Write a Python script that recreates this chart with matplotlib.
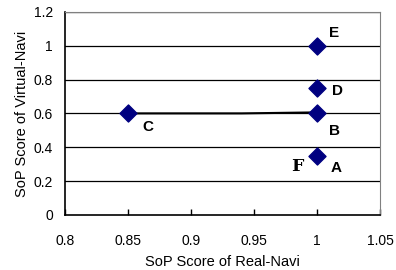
import matplotlib
matplotlib.use("Agg")
import matplotlib.pyplot as plt

plt.rcParams["font.family"] = ["Liberation Sans", "DejaVu Sans"]

# data
real_navi = [1.0, 1.0, 0.85, 1.0, 1.0]
virtual_navi = [0.35, 0.6, 0.6, 0.75, 1.0]
point_names = ["A", "B", "C", "D", "E"]
line_x = [0.85, 0.94, 1.0]
line_y = [0.6, 0.6, 0.606]

NAVY = "#000080"

fig = plt.figure(figsize=(3.96, 2.70), dpi=100)
ax = fig.add_axes([0.164, 0.204, 0.796, 0.752])

for y in [0.2, 0.4, 0.6, 0.8, 1.0, 1.2]:
    ax.axhline(y, color="black", lw=0.9, zorder=1)

ax.plot(line_x, line_y, color="black", lw=1.5, zorder=2)
ax.scatter(real_navi, virtual_navi, marker="D", s=75, color=NAVY, zorder=3)

# label offsets in points (left edge of the letter)
offsets = {"A": (9.4, -8.6), "B": (8.6, -13), "C": (10, -10), "D": (10.6, -1.8), "E": (8.6, 9.4)}
for x, y, name in zip(real_navi, virtual_navi, point_names):
    dx, dy = offsets[name]
    ax.annotate(name, (x, y), xytext=(dx, dy), textcoords="offset points",
                ha="left", va="center", fontsize=11, fontweight="bold", zorder=4)
ax.annotate("F", (1.0, 0.35), xytext=(-14, -8), textcoords="offset points",
            ha="center", va="center", fontsize=12.5, fontweight="bold",
            family="DejaVu Serif")

ax.set_xlim(0.8, 1.05)
ax.set_ylim(0, 1.2)
ax.set_xticks([0.8, 0.85, 0.9, 0.95, 1.0, 1.05])
ax.set_xticklabels(["0.8", "0.85", "0.9", "0.95", "1", "1.05"])
ax.set_yticks([0, 0.2, 0.4, 0.6, 0.8, 1.0, 1.2])
ax.set_yticklabels(["0", "0.2", "0.4", "0.6", "0.8", "1", "1.2"])
ax.tick_params(axis="x", direction="in", length=4, width=1, labelsize=10, pad=13.5)
ax.tick_params(axis="y", length=0, labelsize=10, pad=8.6)

ax.spines["left"].set_color("black")
ax.spines["bottom"].set_color("black")
ax.spines["left"].set_linewidth(1.2)
ax.spines["bottom"].set_linewidth(1.2)
ax.spines["top"].set_color("#808080")
ax.spines["right"].set_color("#808080")

ax.set_xlabel("SoP Score of Real-Navi", fontsize=10.5, labelpad=5)
ax.set_ylabel("SoP Score of Virtual-Navi", fontsize=10.5, labelpad=3.5)

fig.savefig("out.png", dpi=100)
